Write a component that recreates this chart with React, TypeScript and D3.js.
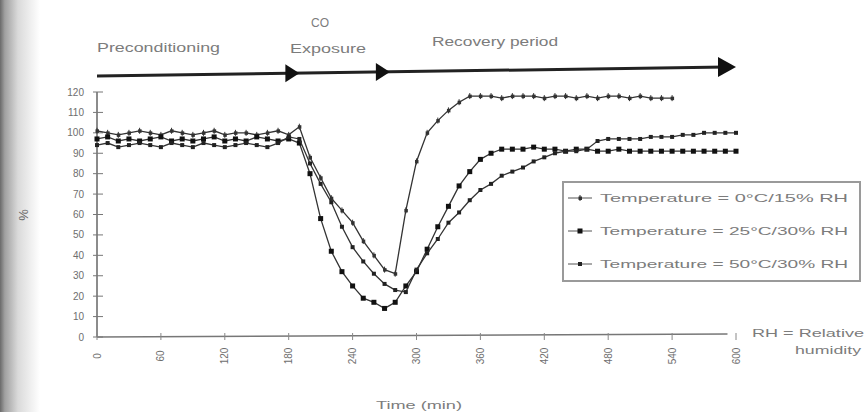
import React from 'react';
import * as d3 from 'd3';

const W = 867;
const H = 412;

// time (min) of each reading
const times0C = [
  0, 10, 20, 30, 40, 50, 60, 70, 80, 90, 100, 110, 120, 130, 140, 150, 160, 170, 180,
  190, 200, 210, 220, 230, 240, 250, 260, 270, 280, 290, 300, 310, 320, 330, 340, 350,
  360, 370, 380, 390, 400, 410, 420, 430, 440, 450, 460, 470, 480, 490, 500, 510, 520, 530, 540,
];
const timesLong = [
  0, 10, 20, 30, 40, 50, 60, 70, 80, 90, 100, 110, 120, 130, 140, 150, 160, 170, 180,
  190, 200, 210, 220, 230, 240, 250, 260, 270, 280, 290, 300, 310, 320, 330, 340, 350,
  360, 370, 380, 390, 400, 410, 420, 430, 440, 450, 460, 470, 480, 490, 500, 510, 520, 530, 540,
  550, 560, 570, 580, 590, 600,
];

// % of initial response
const temp0 = [
  101, 100, 99, 100, 101, 100, 99, 101, 100, 99, 100, 101, 99, 100, 100, 99, 100, 101, 99,
  103, 88, 78, 68, 62, 56, 47, 40, 33, 31,
  62, 86, 100, 106, 111, 115, 118,
  118, 118, 117, 118, 118, 118, 117, 118, 118, 117, 118, 117, 118, 118, 117, 118, 117, 117, 117,
];
const temp25 = [
  97, 98, 96, 97, 96, 97, 98, 96, 97, 96, 97, 98, 96, 97, 96, 98, 97, 96, 97,
  95, 80, 58, 42, 32, 25, 19, 17, 14, 17,
  25, 32, 43, 54, 64, 74, 81, 87, 90, 92, 92, 92,
  93, 92, 92, 91, 92, 92, 91, 91, 92, 91, 91, 91, 91, 91, 91, 91, 91, 91, 91, 91,
];
const temp50 = [
  94, 95, 93, 94, 95, 94, 93, 95, 94, 93, 95, 94, 93, 94, 95, 94, 93, 95, 98,
  97, 85, 75, 66, 54, 44, 37, 31, 26, 23,
  22, 33, 41, 48, 56, 61, 67, 72, 75, 79, 81, 83, 86, 88, 90, 91, 91, 92, 96, 97, 97, 97,
  97, 98, 98, 98, 99, 99, 100, 100, 100, 100,
];

const xTicks = [0, 60, 120, 180, 240, 300, 360, 420, 480, 540, 600];
const yTicks = [0, 10, 20, 30, 40, 50, 60, 70, 80, 90, 100, 110, 120];
const legendLabels = [
  'Temperature = 0°C/15% RH',
  'Temperature = 25°C/30% RH',
  'Temperature = 50°C/30% RH',
];
const phaseEnds = [190, 275, 600];

type Shape = 'cross' | 'square' | 'small';

const series: { times: number[]; values: number[]; shape: Shape }[] = [
  { times: times0C, values: temp0, shape: 'cross' },
  { times: timesLong, values: temp25, shape: 'square' },
  { times: timesLong, values: temp50, shape: 'small' },
];

const x = d3.scaleLinear().domain([0, 600]).range([97, 736]);
const y = d3.scaleLinear().domain([0, 120]).range([337, 92]);

const txt = '#7c7c7c';
const ink = '#222';

function Marker({ cx, cy, shape }: { cx: number; cy: number; shape: Shape }) {
  if (shape === 'square') return <rect x={cx - 2.5} y={cy - 2.5} width={5} height={5} fill="#111" />;
  if (shape === 'small') return <rect x={cx - 2} y={cy - 2} width={4} height={4} fill="#222" />;
  return (
    <g>
      <rect x={cx - 1.5} y={cy - 1.5} width={3.5} height={3.5} fill="#333" />
      <line x1={cx} x2={cx} y1={cy - 3} y2={cy + 3} stroke="#333" strokeWidth={1} />
    </g>
  );
}

export default function App() {
  const line = d3
    .line<[number, number]>()
    .x((d) => x(d[0]))
    .y((d) => y(d[1]));

  const arrowY = (t: number) => 76 - (x(t) - 97) * (9 / 640);

  return (
    <svg
      width={W}
      height={H}
      style={{ position: 'fixed', left: 0, top: 0, background: '#fff' }}
      fontFamily="Liberation Sans, Arial, sans-serif"
    >
      <defs>
        <linearGradient id="scanEdge" x1="0" x2="1" y1="0" y2="0">
          <stop offset="0" stopColor="#6a6a6a" />
          <stop offset="0.12" stopColor="#a0a0a0" />
          <stop offset="0.45" stopColor="#dadada" />
          <stop offset="1" stopColor="#ffffff" />
        </linearGradient>
      </defs>
      <rect x={0} y={0} width={40} height={H} fill="url(#scanEdge)" />

      {/* phase arrow */}
      <line x1={97} y1={arrowY(0)} x2={x(600) - 10} y2={arrowY(600)} stroke={ink} strokeWidth={3} />
      {phaseEnds.map((t, i) => {
        const tx = x(t);
        const ty = arrowY(t);
        const len = i === 2 ? 18 : 14;
        const half = i === 2 ? 10 : 9;
        return (
          <path
            key={t}
            d={`M${tx},${ty} L${tx - len},${ty - half} L${tx - len},${ty + half} Z`}
            fill="#111"
          />
        );
      })}
      <text x={97} y={52} fontSize={12} fill={txt} textLength={123} lengthAdjust="spacingAndGlyphs">
        Preconditioning
      </text>
      <text x={320} y={27} fontSize={12} fill={txt} textAnchor="middle">
        CO
      </text>
      <text x={290} y={53} fontSize={12} fill={txt} textLength={76} lengthAdjust="spacingAndGlyphs">
        Exposure
      </text>
      <text x={432} y={46} fontSize={12} fill={txt} textLength={126} lengthAdjust="spacingAndGlyphs">
        Recovery period
      </text>

      {/* y axis */}
      <line x1={97} x2={97} y1={y(120)} y2={y(0)} stroke="#666" strokeWidth={1.5} />
      {yTicks.map((v) => (
        <g key={v}>
          <line x1={93} x2={103} y1={y(v)} y2={y(v)} stroke="#777" strokeWidth={1} />
          <text x={84} y={y(v)} dy="0.35em" fontSize={10} fill="#6e6e6e" textAnchor="end">
            {v}
          </text>
        </g>
      ))}
      <text transform="translate(28,215) rotate(-90)" fontSize={13} fill="#666" textAnchor="middle">
        %
      </text>

      {/* x axis */}
      <line x1={97} x2={x(592)} y1={y(0)} y2={y(0) - 3} stroke="#777" strokeWidth={1.5} />
      {xTicks.map((t) => (
        <g key={t}>
          <line x1={x(t)} x2={x(t)} y1={y(0) - 4} y2={y(0) + 3} stroke="#888" strokeWidth={1} />
          <text
            transform={`translate(${x(t)},${356}) rotate(-90)`}
            fontSize={10}
            fill="#6e6e6e"
            textAnchor="middle"
            dy="0.35em"
          >
            {t}
          </text>
        </g>
      ))}
      <text x={419} y={409} fontSize={11} fill={txt} textAnchor="middle" textLength={86} lengthAdjust="spacingAndGlyphs">
        Time (min)
      </text>
      <text x={752} y={337} fontSize={11} fill={txt} textLength={112} lengthAdjust="spacingAndGlyphs">
        RH = Relative
      </text>
      <text x={795} y={354} fontSize={11} fill={txt} textLength={66} lengthAdjust="spacingAndGlyphs">
        humidity
      </text>

      {/* series */}
      {series.map((s, i) => {
        const pts: [number, number][] = s.times.map((t, j) => [t, s.values[j]]);
        return (
          <g key={i}>
            <path d={line(pts) ?? ''} fill="none" stroke="#333" strokeWidth={1.3} />
            {pts.map((p, j) => (
              <Marker key={j} cx={x(p[0])} cy={y(p[1])} shape={s.shape} />
            ))}
          </g>
        );
      })}

      {/* legend */}
      <rect x={563} y={182} width={297} height={99} fill="#fff" stroke="#9a9a9a" strokeWidth={2} />
      {legendLabels.map((label, i) => {
        const ly = 198 + i * 33;
        return (
          <g key={label}>
            <line x1={568} x2={592} y1={ly} y2={ly} stroke="#555" strokeWidth={1} />
            <Marker cx={580} cy={ly} shape={series[i].shape} />
            <text x={600} y={ly} dy="0.35em" fontSize={11} fill={txt} textLength={248} lengthAdjust="spacingAndGlyphs">
              {label}
            </text>
          </g>
        );
      })}
    </svg>
  );
}
